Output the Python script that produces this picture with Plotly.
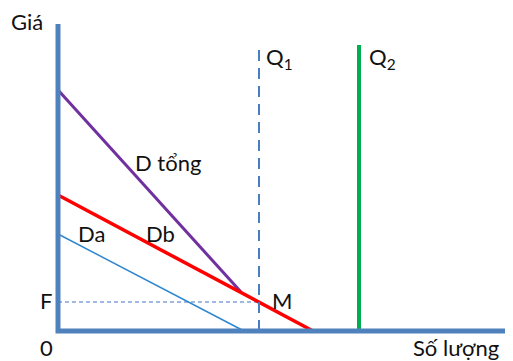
import plotly.graph_objects as go

# Chart geometry in plot units (origin at the axes corner)
axis_x = [0, 0, 455]
axis_y = [307, 0, 0]

d_tong_x = [0, 183]
d_tong_y = [241, 39]

db_x = [0, 255]
db_y = [136, 0]

da_x = [0, 186]
da_y = [97, 0]

q1_x = [201, 201]
q1_y = [0, 286]

q2_x = [301, 301]
q2_y = [0, 286]

f_x = [0, 201]
f_y = [29, 29]

labels = ["Giá", "Q<sub>1</sub>", "Q<sub>2</sub>", "D tổng", "Da", "Db", "F", "M", "0", "Số lượng"]
label_x = [-49, 206, 309, 75, 18, 86, -20, 212, -20, 353]
label_y = [310, 273, 273, 169, 98, 98, 31, 31, -16, -16]

FONT = "Lato"
TXT = "#111111"

fig = go.Figure()

def line(x, y, color, width, dash="solid"):
    fig.add_trace(go.Scatter(x=x, y=y, mode="lines",
                             line=dict(color=color, width=width, dash=dash),
                             hoverinfo="skip", showlegend=False))

line(f_x, f_y, "#4472C4", 1.2, "4px,3px")
line(da_x, da_y, "#2E86D0", 1.5)
line(d_tong_x, d_tong_y, "#7030A0", 3)
line(db_x, db_y, "#FF0000", 3.5)
line(q1_x, q1_y, "#4A7EC2", 2, "11px,7px")
line(q2_x, q2_y, "#00B050", 4)
line(axis_x, axis_y, "#4F81BD", 5)

for t, x, y in zip(labels, label_x, label_y):
    fig.add_annotation(x=x, y=y, text=t, showarrow=False, xanchor="left", yanchor="middle",
                       font=dict(family=FONT, size=22, color=TXT))

fig.update_layout(
    width=505, height=353,
    margin=dict(l=0, r=0, t=0, b=0),
    paper_bgcolor="white", plot_bgcolor="white",
    xaxis=dict(range=[-50, 455], visible=False, fixedrange=True),
    yaxis=dict(range=[-30, 323], visible=False, fixedrange=True),
)

fig.write_html("out.html")
